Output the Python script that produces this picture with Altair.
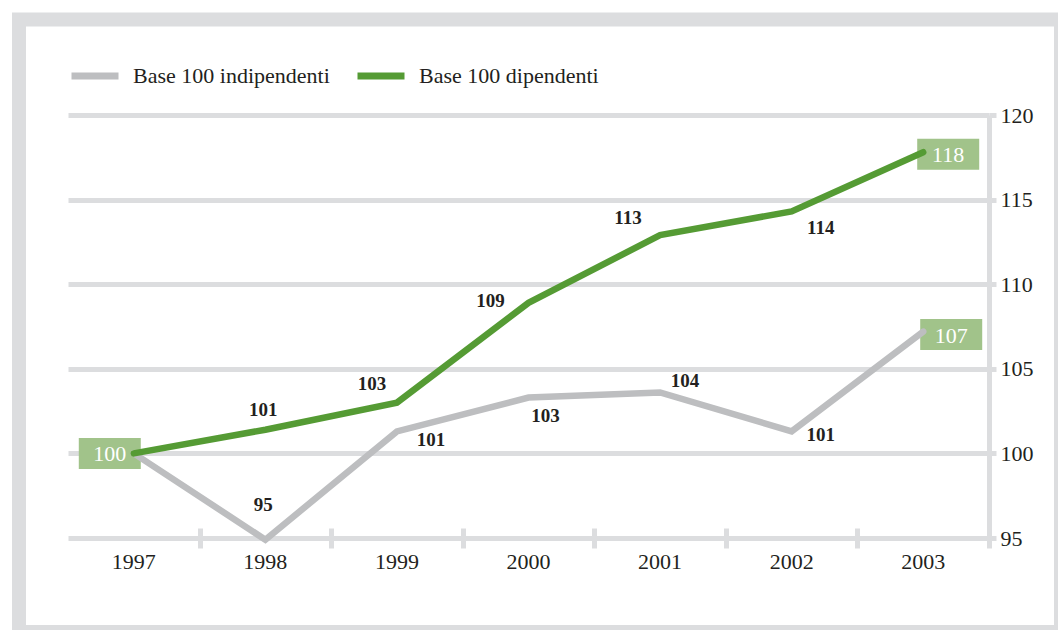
import altair as alt
import pandas as pd

# ---- data ----
years = ["1997", "1998", "1999", "2000", "2001", "2002", "2003"]
indipendenti = [100, 94.9, 101.3, 103.3, 103.6, 101.3, 107.2]
dipendenti = [100, 101.4, 103.0, 108.9, 112.9, 114.3, 117.8]
series_names = ["Base 100 indipendenti", "Base 100 dipendenti"]
y_ticks = [95, 100, 105, 110, 115, 120]

# ---- styling ----
GRID = "#dcdddf"
GREY = "#bdbec0"
GREEN = "#559b34"
BOX = "#a1c38a"
TEXT = "#231f20"
FONT = "Liberation Serif"

PLOT_W, PLOT_H = 921, 423
PAD = {"left": 68, "top": 115, "right": 1058 - 68 - PLOT_W, "bottom": 630 - 115 - PLOT_H}

df = pd.DataFrame({
    "anno": years * 2,
    "valore": indipendenti + dipendenti,
    "serie": [series_names[0]] * len(years) + [series_names[1]] * len(years),
})

x_scale = alt.Scale(type="band", domain=years, paddingInner=0, paddingOuter=0)
y_scale = alt.Scale(domain=[95, 120], nice=False, zero=False)
color_scale = alt.Scale(domain=series_names, range=[GREY, GREEN])

base = alt.Chart(df)

# outer frame
frame = alt.Chart(pd.DataFrame({"k": [0]})).mark_rect(
    filled=False, stroke=GRID, strokeWidth=14
).encode(
    x=alt.value(19 - PAD["left"]), x2=alt.value(1061 - PAD["left"]),
    y=alt.value(19.5 - PAD["top"]), y2=alt.value(632 - PAD["top"]),
)

y_axis = alt.Axis(
    orient="right", values=y_ticks, grid=True, gridColor=GRID, gridWidth=5,
    domain=True, domainColor=GRID, domainWidth=5,
    ticks=True, tickColor=GRID, tickWidth=5, tickSize=7,
    labelFont=FONT, labelFontSize=22, labelColor=TEXT, labelPadding=4, title=None,
)
x_label_axis = alt.Axis(
    orient="bottom", ticks=False, tickSize=0, domain=False, grid=False,
    labelFont=FONT, labelFontSize=22, labelColor=TEXT, labelPadding=13,
    labelAngle=0, title=None,
)
x_tick_axis = alt.Axis(
    orient="bottom", values=years[1:], labels=False, domain=False, grid=False,
    ticks=True, tickBand="extent", tickColor=GRID, tickWidth=5, tickSize=20,
    offset=-10, title=None,
)

legend = alt.Legend(
    orient="none", legendX=0, legendY=-66, direction="horizontal", title=None,
    symbolType="stroke", symbolStrokeWidth=7, symbolSize=2209,
    labelFont=FONT, labelFontSize=22, labelColor=TEXT, labelOffset=11,
    columnPadding=13, padding=0, labelLimit=400,
)

Y = alt.Y("valore:Q", scale=y_scale, axis=y_axis)

# highlighted value boxes: (series index, year, dx, dy)
box_specs = [(1, "1997", -24, 0), (1, "2003", 25, 2), (0, "2003", 28, 3)]
box_layers = []
box_text_layers = []
for s, yr, dx, dy in box_specs:
    sel = base.transform_filter(
        (alt.datum.serie == series_names[s]) & (alt.datum.anno == yr)
    )
    box_layers.append(
        sel.mark_point(
            shape="M-1,-0.5H1V0.5H-1Z", size=3844, filled=True, fill=BOX,
            opacity=1, strokeWidth=0, xOffset=dx, yOffset=dy,
        ).encode(
            x=alt.X("anno:O", scale=x_scale, axis=None),
            y=Y,
        )
    )
    box_text_layers.append(
        sel.mark_text(
            font=FONT, fontSize=22, color="white", dx=dx, dy=dy + 1,
            align="center", baseline="middle",
        ).encode(
            x=alt.X("anno:O", scale=x_scale, axis=None),
            y=Y,
            text=alt.Text("valore:Q", format=".0f"),
        )
    )

line_grey = base.transform_filter(alt.datum.serie == series_names[0]).mark_line(
    strokeWidth=6.5, strokeCap="round", strokeJoin="miter"
).encode(
    x=alt.X("anno:O", scale=x_scale, axis=x_label_axis),
    y=Y,
    color=alt.Color("serie:N", scale=color_scale, legend=legend),
)
line_green = base.transform_filter(alt.datum.serie == series_names[1]).mark_line(
    strokeWidth=6.5, strokeCap="round", strokeJoin="miter"
).encode(
    x=alt.X("anno:O", scale=x_scale, axis=None),
    y=Y,
    color=alt.Color("serie:N", scale=color_scale, legend=legend),
)

ticks_layer = base.mark_point(opacity=0).encode(
    x=alt.X("anno:O", scale=x_scale, axis=x_tick_axis),
    y=Y,
)

# plain value labels: (series index, year, dx, dy)
label_specs = [
    (1, "1998", -2, -20), (1, "1999", -25, -19), (1, "2000", -38, -2),
    (1, "2001", -32, -17), (1, "2002", 29, 17),
    (0, "1998", -2, -35), (0, "1999", 34, 9), (0, "2000", 17, 18),
    (0, "2001", 25, -11), (0, "2002", 29, 4),
]
label_layers = []
for s, yr, dx, dy in label_specs:
    label_layers.append(
        base.transform_filter(
            (alt.datum.serie == series_names[s]) & (alt.datum.anno == yr)
        ).mark_text(
            font=FONT, fontSize=19, fontWeight="bold", color=TEXT,
            dx=dx, dy=dy, align="center", baseline="middle",
        ).encode(
            x=alt.X("anno:O", scale=x_scale, axis=None),
            y=Y,
            text=alt.Text("valore:Q", format=".0f"),
        )
    )

chart = alt.layer(
    frame, ticks_layer, *box_layers, line_grey, line_green,
    *box_text_layers, *label_layers,
).resolve_axis(x="independent").properties(
    width=PLOT_W, height=PLOT_H, padding=PAD,
    autosize=alt.AutoSizeParams(type="none"),
    background="white",
).configure_view(stroke=None)

chart.save("out.html", embed_options={"renderer": "svg", "actions": False})
